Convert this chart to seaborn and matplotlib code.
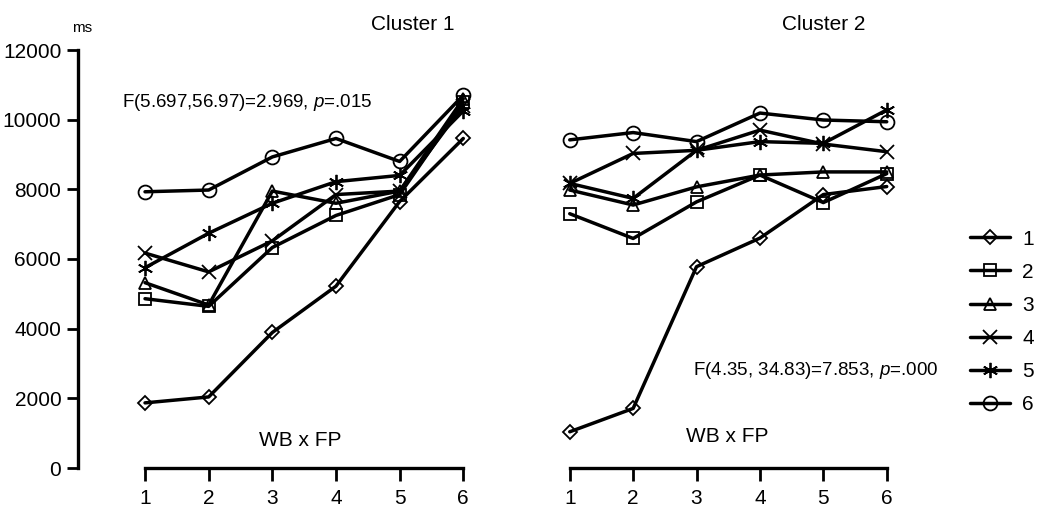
import numpy as np
import pandas as pd
import matplotlib
matplotlib.use("Agg")
import matplotlib.pyplot as plt
from matplotlib.lines import Line2D
import seaborn as sns

# ---- data ----
wb_fp = [1, 2, 3, 4, 5, 6]
series_labels = ["1", "2", "3", "4", "5", "6"]

c1_s1 = [1870, 2040, 3890, 5220, 7650, 9460]
c1_s2 = [4860, 4640, 6330, 7250, 7850, 10500]
c1_s3 = [5320, 4680, 7950, 7600, 7950, 10600]
c1_s4 = [6170, 5630, 6520, 7850, 7950, 10400]
c1_s5 = [5750, 6740, 7600, 8220, 8400, 10250]
c1_s6 = [7930, 7980, 8930, 9460, 8800, 10700]

c2_s1 = [1040, 1710, 5780, 6600, 7850, 8080]
c2_s2 = [7300, 6590, 7640, 8410, 7620, 8450]
c2_s3 = [7980, 7550, 8070, 8410, 8500, 8500]
c2_s4 = [8170, 9030, 9120, 9700, 9300, 9080]
c2_s5 = [8170, 7740, 9120, 9370, 9320, 10280]
c2_s6 = [9420, 9630, 9370, 10190, 9990, 9940]

cluster_titles = ["Cluster 1", "Cluster 2"]
stat_texts = [r"F(5.697,56.97)=2.969, $\it{p}$=.015",
              r"F(4.35, 34.83)=7.853, $\it{p}$=.000"]
x_label_text = "WB x FP"
y_unit = "ms"
y_ticks = [0, 2000, 4000, 6000, 8000, 10000, 12000]

clusters = [
    [c1_s1, c1_s2, c1_s3, c1_s4, c1_s5, c1_s6],
    [c2_s1, c2_s2, c2_s3, c2_s4, c2_s5, c2_s6],
]

# ---- style ----
sns.set_style("white")
plt.rcParams["font.family"] = ["Liberation Sans", "DejaVu Sans"]
plt.rcParams["mathtext.fontset"] = "custom"
plt.rcParams["mathtext.it"] = "Liberation Sans:italic"
plt.rcParams["mathtext.rm"] = "Liberation Sans"
for k in ["text.color", "axes.labelcolor", "xtick.color", "ytick.color"]:
    plt.rcParams[k] = "black"

markers = ["D", "s", "^", "x", (6, 2, 0), "o"]
msizes = [7, 9, 9, 10, 11, 10]

W, H = 1053, 516
fig = plt.figure(figsize=(W / 100, H / 100), dpi=100)

xlim = (-0.053, 6.2)
bottom = 48 / H
height = 418 / H
ax1 = fig.add_axes([78 / W, bottom, 398 / W, height])
ax2 = fig.add_axes([503 / W, bottom, 396.4 / W, height])
axes = [ax1, ax2]
title_x = [5.2, 5.0]

for ci, (ax, data) in enumerate(zip(axes, clusters)):
    for si, vals in enumerate(data):
        df = pd.DataFrame({"x": wb_fp, "y": vals})
        sns.lineplot(data=df, x="x", y="y", ax=ax, color="black",
                     linewidth=2.5, marker=markers[si], markersize=msizes[si],
                     markerfacecolor="none", markeredgecolor="black",
                     markeredgewidth=1.3, legend=False)
    ax.set_xlim(*xlim)
    ax.set_ylim(0, 12000)
    ax.set_xticks(wb_fp)
    ax.set_xticklabels([str(v) for v in wb_fp])
    ax.set_xlabel("")
    ax.set_ylabel("")
    for s in ["top", "right"]:
        ax.spines[s].set_visible(False)
    ax.spines["bottom"].set_bounds(1, 6)
    ax.spines["bottom"].set_linewidth(2.4)
    ax.spines["bottom"].set_color("black")
    ax.tick_params(axis="x", bottom=True, direction="out", length=9, width=2.0,
                   labelsize=15, pad=6, colors="black")
    ax.text(title_x[ci], 1.06, cluster_titles[ci], transform=ax.get_xaxis_transform(),
            ha="center", va="center", fontsize=15)
    ax.patch.set_alpha(0)

ax1.set_yticks(y_ticks)
ax1.set_yticklabels([str(v) for v in y_ticks])
ax1.spines["left"].set_bounds(0, 12000)
ax1.spines["left"].set_linewidth(2.4)
ax1.spines["left"].set_color("black")
ax1.tick_params(axis="y", left=True, direction="out", length=8, width=2.0,
                labelsize=15, pad=4, colors="black")
ax1.text(0.01, 1.053, y_unit, transform=ax1.transAxes, ha="center",
         va="center", fontsize=11)

ax2.spines["left"].set_visible(False)
ax2.set_yticks([])

ax1.text(0.638, 10480, stat_texts[0], ha="left", va="center", fontsize=13.5)
ax2.text(2.94, 2810, stat_texts[1], ha="left", va="center", fontsize=13.5)
ax1.text(3.44, 800, x_label_text, ha="center", va="center", fontsize=15)
ax2.text(3.49, 890, x_label_text, ha="center", va="center", fontsize=15)

handles = [Line2D([0], [0], color="black", linewidth=2.5, marker=markers[i],
                  markersize=msizes[i], markerfacecolor="none",
                  markeredgecolor="black", markeredgewidth=1.3)
           for i in range(6)]
fig.legend(handles, series_labels, loc="center left",
           bbox_to_anchor=(970 / W, 1 - 322 / H), frameon=False,
           fontsize=15, handlelength=1.9, handletextpad=0.6,
           labelspacing=0.68, borderpad=0, borderaxespad=0)

fig.savefig("out.png", dpi=100, facecolor="white")
